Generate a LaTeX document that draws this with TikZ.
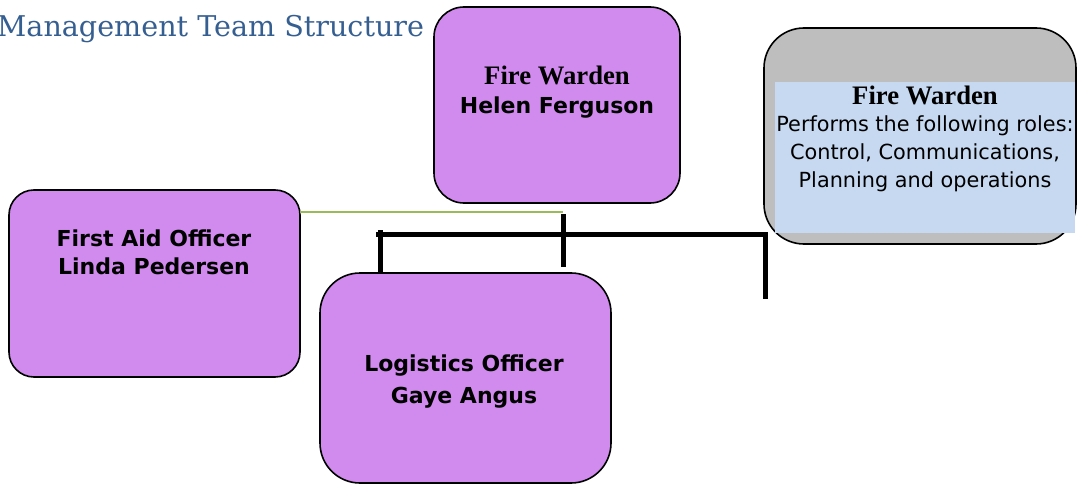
\documentclass[tikz,border=0pt]{standalone}
\usepackage{fontspec}
\setmainfont{Liberation Serif}
\setsansfont{DejaVu Sans}
\newfontfamily\titlefont{DejaVu Serif}
\definecolor{boxpurple}{RGB}{209,139,238}
\definecolor{titleblue}{RGB}{54,95,145}
\definecolor{greyfill}{RGB}{190,190,190}
\definecolor{lightblue}{RGB}{198,217,241}
\definecolor{greenline}{RGB}{155,187,89}
\tikzset{
  rolebox/.style={draw=black, line width=1.6pt, fill=boxpurple, inner sep=0pt},
  conn/.style={line width=5pt, black},
  hd/.style={anchor=base, inner sep=0pt, font=\fontsize{26.7}{30}\selectfont\rmfamily\bfseries},
  nm/.style={anchor=base, inner sep=0pt, font=\fontsize{22}{26}\selectfont\sffamily\bfseries},
  tx/.style={anchor=base, inner sep=0pt, font=\fontsize{20.8}{26}\selectfont\sffamily},
}
\begin{document}
\begin{tikzpicture}[x=1pt,y=-1pt]
\useasboundingbox (0,0) rectangle (1077,484);
% title
\node[anchor=base west, inner sep=0pt, text=titleblue, font=\fontsize{28.6}{32}\selectfont\titlefont] (title) at (-3,37) {Management Team Structure};
% top box
\draw[rolebox, rounded corners=30pt] (434,7) rectangle (680,203);
\node[hd] (fw1) at (557,85) {Fire Warden};
\node[nm] (fw2) at (557,114) {Helen Ferguson};
% left box
\draw[rolebox, rounded corners=25pt] (9,190) rectangle (300,377);
\node[nm] (fa1) at (154,247) {First Aid Officer};
\node[nm] (fa2) at (154,274) {Linda Pedersen};
% bottom box
\draw[rolebox, rounded corners=40pt] (320,273) rectangle (611,483);
\node[nm] (lo1) at (464,371) {Logistics Officer};
\node[nm] (lo2) at (464,403) {Gaye Angus};
% right box
\draw[draw=black, line width=1.6pt, fill=greyfill, rounded corners=40pt] (764,28) rectangle (1076,244);
\fill[lightblue] (775,82) rectangle (1075,233);
\node[hd] (in1) at (925,105) {Fire Warden};
\node[tx] (in2) at (925,132) {Performs the following roles:};
\node[tx] (in3) at (925,160) {Control, Communications,};
\node[tx] (in4) at (925,188) {Planning and operations};
% connectors
\coordinate (g1) at (300,212);
\coordinate (g2) at (563,212);
\draw[greenline, line width=1.5pt] (g1) -- (g2);
\coordinate (hl) at (376,234);
\coordinate (hr) at (767,234);
\draw[conn] (hl) -- (hr);
\coordinate (lt) at (380,230);
\coordinate (lb) at (380,273);
\draw[conn] (lt) -- (lb);
\coordinate (mt) at (563,214);
\coordinate (mb) at (563,267);
\draw[conn] (mt) -- (mb);
\coordinate (rt) at (765,232);
\coordinate (rb) at (765,299);
\draw[conn] (rt) -- (rb);
\end{tikzpicture}
\end{document}
